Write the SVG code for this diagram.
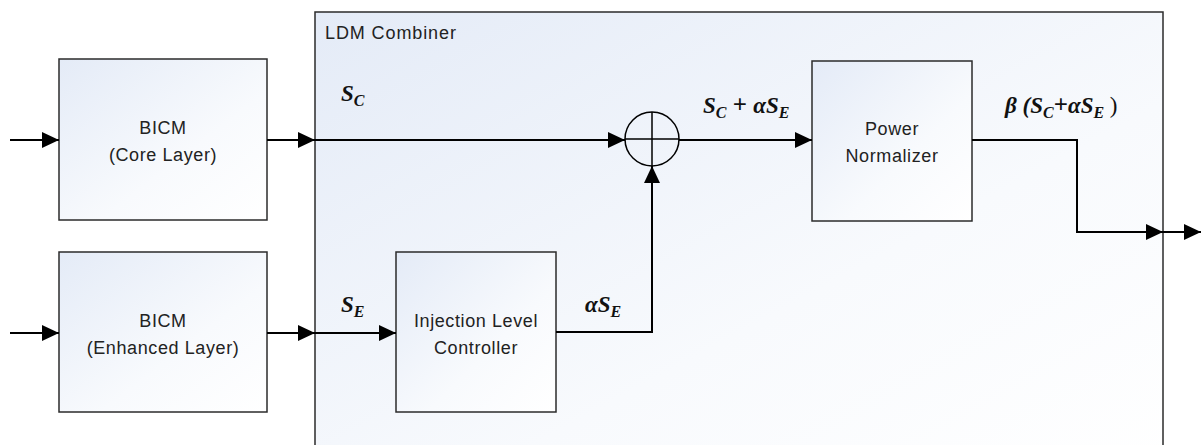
<svg xmlns="http://www.w3.org/2000/svg" width="1201" height="445" viewBox="0 0 1201 445">
<style>
.box{stroke:#2b2b2b;stroke-width:1.5;fill:url(#g)}
.lbl{font-family:"Liberation Sans",Arial,sans-serif;font-size:18px;letter-spacing:0.6px;fill:#222;text-anchor:middle}
.ttl{font-family:"Liberation Sans",Arial,sans-serif;font-size:18px;letter-spacing:0.9px;fill:#222}
.math{font-family:"Liberation Serif","DejaVu Serif",serif;font-size:23px;font-weight:bold;font-style:italic;fill:#111}
.sub{font-size:16px}
.op{font-style:normal;font-size:25px}
.wire{stroke:#000;stroke-width:2;fill:none}
.arr{marker-end:url(#ah)}
</style>
<defs>
<linearGradient id="g" x1="0" y1="0" x2="1" y2="1">
<stop offset="0" stop-color="#e4ebf7"/>
<stop offset="0.6" stop-color="#f8fafd"/>
<stop offset="1" stop-color="#ffffff"/>
</linearGradient>
<marker id="ah" markerUnits="userSpaceOnUse" markerWidth="17" markerHeight="16" refX="17" refY="8" orient="auto">
<path d="M0,0 L17,8 L0,16 z" fill="#000"/>
</marker>
</defs>
<g id="ldm-combiner">
<rect class="box" x="315" y="12" width="848" height="460"/>
<text class="ttl" x="325" y="39">LDM Combiner</text>
</g>
<g id="bicm-core">
<rect class="box" x="59" y="59" width="208" height="161"/>
<text class="lbl" x="163" y="134">BICM</text>
<text class="lbl" x="163" y="161">(Core Layer)</text>
</g>
<g id="bicm-enhanced">
<rect class="box" x="59" y="252" width="208" height="160"/>
<text class="lbl" x="163" y="327">BICM</text>
<text class="lbl" x="163" y="354">(Enhanced Layer)</text>
</g>
<g id="injection-level-controller">
<rect class="box" x="396" y="252" width="160" height="160"/>
<text class="lbl" x="476" y="327">Injection Level</text>
<text class="lbl" x="476" y="354">Controller</text>
</g>
<g id="power-normalizer">
<rect class="box" x="812" y="61" width="160" height="160"/>
<text class="lbl" x="892" y="135">Power</text>
<text class="lbl" x="892" y="162">Normalizer</text>
</g>
<g id="adder">
<circle cx="652" cy="139" r="27" fill="none" stroke="#000" stroke-width="1.5"/>
<path d="M625,139 H679 M652,112 V166" stroke="#000" stroke-width="1.5"/>
</g>
<g id="connectors">
<path class="wire arr" d="M10,140 H59"/>
<path class="wire arr" d="M10,333 H59"/>
<path class="wire arr" d="M267,140 H315"/>
<path class="wire arr" d="M315,140 H625"/>
<path class="wire arr" d="M267,333 H315"/>
<path class="wire arr" d="M315,333 H396"/>
<path class="wire arr" d="M556,332 H652 V166"/>
<path class="wire arr" d="M679,140 H812"/>
<path class="wire arr" d="M972,140 H1077 V232 H1163"/>
<path class="wire arr" d="M1163,232 H1201"/>
</g>
<g id="labels">
<text class="math" x="341" y="101">S<tspan class="sub" dy="5">C</tspan></text>
<text class="math" x="341" y="312">S<tspan class="sub" dy="5">E</tspan></text>
<text class="math" x="585" y="312">αS<tspan class="sub" dy="5">E</tspan></text>
<text class="math" x="703" y="113">S<tspan class="sub" dy="5">C</tspan><tspan class="op" dy="-5"> + </tspan><tspan>αS</tspan><tspan class="sub" dy="5">E</tspan></text>
<text class="math" x="1005" y="113">β (S<tspan class="sub" dy="5">C</tspan><tspan class="op" dy="-5">+</tspan><tspan>αS</tspan><tspan class="sub" dy="5">E</tspan><tspan dy="-5" font-weight="normal" font-style="normal"> )</tspan></text>
</g>
</svg>
